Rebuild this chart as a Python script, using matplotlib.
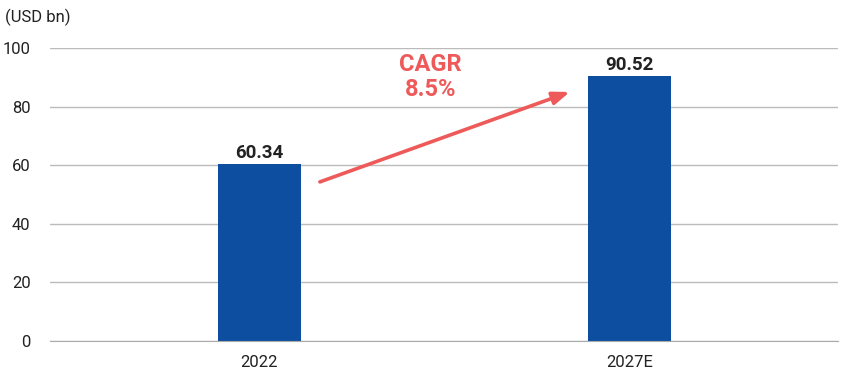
import matplotlib
matplotlib.use("Agg")
import matplotlib.pyplot as plt

categories = ["2022", "2027E"]
values = [60.34, 90.52]
value_labels = ["60.34", "90.52"]
yticks = [0, 20, 40, 60, 80, 100]
cagr_text = "CAGR\n8.5%"

plt.rcParams['font.family'] = ['Roboto', 'DejaVu Sans']

fig = plt.figure(figsize=(8.42, 3.8), dpi=100)
ax = fig.add_axes([50/842, 39/380, 788/842, 293/380])

x = list(range(len(categories)))
ax.bar(x, values, width=0.224, color='#0D4EA0', zorder=3)
for xi, v, lab in zip(x, values, value_labels):
    ax.annotate(lab, xy=(xi, v), xytext=(0, 4.5), textcoords='offset points',
                ha='center', va='baseline', fontsize=13.5,
                fontweight='bold', color='#222222')

ax.set_xlim(-0.566, 1.564)
ax.set_ylim(0, 100)
ax.set_yticks(yticks)
ax.set_xticks(x)
ax.set_xticklabels(categories)
ax.tick_params(axis='both', length=0, labelsize=12, colors='#222222')
ax.tick_params(axis='y', pad=14)
ax.tick_params(axis='x', pad=10)
ax.grid(axis='y', color='#BBBBBB', linewidth=1, zorder=0)
for s in ['top', 'right', 'left']:
    ax.spines[s].set_visible(False)
ax.spines['bottom'].set_color('#AAAAAA')
ax.spines['bottom'].set_zorder(4)

ax.annotate('', xy=(0.839, 85.0), xytext=(0.1635, 54.3),
            arrowprops=dict(arrowstyle='-|>,head_length=1.0,head_width=0.38',
                            color='#EE5A5A', lw=2.6, shrinkA=0, shrinkB=0),
            zorder=5)
ax.text(0.462, 90.0, cagr_text, ha='center', va='center', fontsize=17,
        fontweight='bold', color='#EE5A5A', linespacing=1.1)

fig.text(5/842, 1 - 17/380, "(USD bn)", ha='left', va='center', fontsize=12,
         color='#222222')

fig.savefig('out.png', dpi=100)
